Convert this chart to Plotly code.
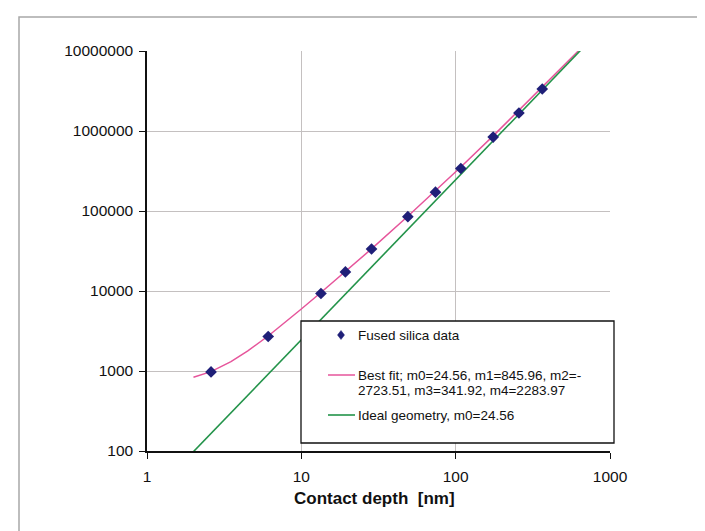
import plotly.graph_objects as go

# ---- data ----
data_depth = [2.6, 6.1, 13.4, 19.3, 28.5, 49, 74, 108, 175, 257, 364]
data_area = [975, 2700, 9300, 17300, 33500, 85000, 172000, 340000, 840000, 1680000, 3350000]

fit_depth = [2.0, 2.6, 3.5, 4.5, 6.1, 8.0, 10.0, 13.4, 19.3, 28.5, 49, 74, 108, 175, 257, 364, 500, 650]
fit_area = [836, 982, 1306, 1781, 2740, 4173, 5957, 9590, 17400, 33600, 86000, 180000,
            354700, 869800, 1808000, 3508000, 6509000, 10864000]

ideal_depth = [2.0, 10.0, 100.0, 650.0]
ideal_area = [98.2, 2456, 245600, 10376600]

x_tickvals = [1, 10, 100, 1000]
x_ticktext = ["1", "10", "100", "1000"]
y_tickvals = [100, 1000, 10000, 100000, 1000000, 10000000]
y_ticktext = ["100", "1000", "10000", "100000", "1000000", "10000000"]

legend_labels = ["Fused silica data",
                 "Best fit; m0=24.56, m1=845.96, m2=-",
                 "2723.51, m3=341.92, m4=2283.97",
                 "Ideal geometry, m0=24.56"]

# ---- layout geometry (pixels) ----
W, H = 705, 531
L, R, T, B = 139, 602, 43, 443


def px(x):
    return (x - L) / (R - L)


def py(y):
    return (B - y) / (B - T)


PINK = "#e6559b"
GREEN = "#23934a"
NAVY = "#1f1f78"
FONT = "Liberation Sans, Arial, sans-serif"

fig = go.Figure()
fig.add_trace(go.Scatter(x=fit_depth, y=fit_area, mode="lines",
                         line=dict(color=PINK, width=1.5), name="Best fit"))
fig.add_trace(go.Scatter(x=ideal_depth, y=ideal_area, mode="lines",
                         line=dict(color=GREEN, width=1.6), name="Ideal geometry"))
fig.add_trace(go.Scatter(x=data_depth, y=data_area, mode="markers",
                         marker=dict(symbol="diamond", size=9, color=NAVY),
                         name="Fused silica data"))

shapes = []
# outer frame
shapes.append(dict(type="rect", xref="paper", yref="paper",
                   x0=px(11), x1=px(700), y0=py(560), y1=py(9),
                   line=dict(color="#a8a8a8", width=1.5), layer="below"))
# legend box
shapes.append(dict(type="rect", xref="paper", yref="paper",
                   x0=px(293), x1=px(606), y0=py(435), y1=py(313),
                   line=dict(color="#111111", width=1.3), fillcolor="white", layer="above"))
# legend samples
shapes.append(dict(type="line", xref="paper", yref="paper",
                   x0=px(320), x1=px(347), y0=py(367), y1=py(367),
                   line=dict(color=PINK, width=1.5)))
shapes.append(dict(type="line", xref="paper", yref="paper",
                   x0=px(320), x1=px(347), y0=py(407), y1=py(407),
                   line=dict(color=GREEN, width=1.6)))
cx, cy = 333, 327
shapes.append(dict(type="path", xref="paper", yref="paper",
                   path=f"M {px(cx)},{py(cy-4.5)} L {px(cx+3.5)},{py(cy)} L {px(cx)},{py(cy+4.5)} L {px(cx-3.5)},{py(cy)} Z",
                   fillcolor=NAVY, line=dict(color=NAVY, width=0.5)))

annotations = []
for text, yy in zip(legend_labels, [327, 367, 382, 407]):
    annotations.append(dict(text=text, xref="paper", yref="paper", x=px(348), y=py(yy),
                            xanchor="left", yanchor="middle", showarrow=False,
                            font=dict(family=FONT, size=13.5, color="#111111")))
annotations.append(dict(text="<b>Contact depth  [nm]</b>", xref="paper", yref="paper",
                        x=px(366), y=py(490), xanchor="center", yanchor="middle",
                        showarrow=False, font=dict(family=FONT, size=17, color="#111111")))

fig.update_layout(
    width=W, height=H,
    margin=dict(l=L, r=W - R, t=T, b=H - B, pad=0, autoexpand=False),
    paper_bgcolor="white", plot_bgcolor="white",
    showlegend=False,
    shapes=shapes, annotations=annotations,
    font=dict(family=FONT, size=15.5, color="#111111"),
)
fig.update_xaxes(type="log", range=[0, 3], tickvals=x_tickvals, ticktext=x_ticktext,
                 showgrid=True, gridcolor="#c4c0c0", gridwidth=1,
                 showline=True, linecolor="#111111", linewidth=1.5,
                 ticks="outside", ticklen=6, tickwidth=1.3, tickcolor="#111111",
                 ticklabelstandoff=5, automargin=False,
                 zeroline=False, mirror=False, tickfont=dict(size=15.5))
fig.update_yaxes(type="log", range=[2, 7], tickvals=y_tickvals, ticktext=y_ticktext,
                 showgrid=True, gridcolor="#c4c0c0", gridwidth=1,
                 showline=True, linecolor="#111111", linewidth=1.5,
                 ticks="outside", ticklen=6, tickwidth=1.3, tickcolor="#111111",
                 ticklabelstandoff=3, automargin=False,
                 zeroline=False, mirror=False, tickfont=dict(size=15.5))

fig.write_html("out.html")
